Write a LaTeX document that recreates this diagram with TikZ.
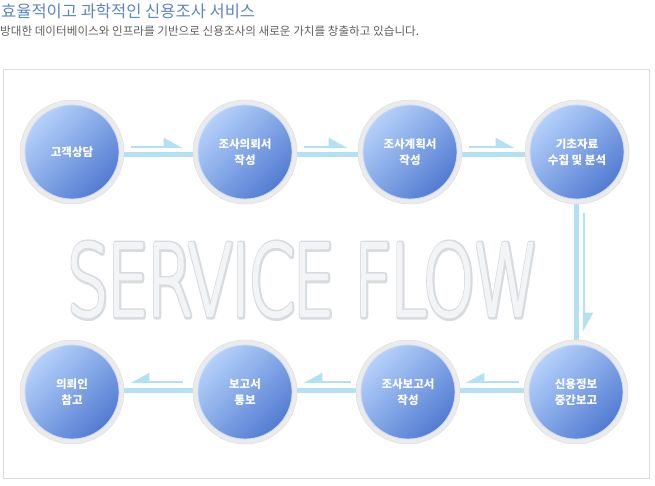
\documentclass[tikz,border=0pt]{standalone}
\usepackage{fontspec}
\usepackage{graphicx}
\setmainfont{Noto Sans CJK KR}
\newfontfamily\flowfont{DejaVu Sans ExtraLight}[LetterSpace=-3]
\usetikzlibrary{positioning,arrows.meta,backgrounds}
\definecolor{titleblue}{HTML}{5A86C8}
\definecolor{subgray}{HTML}{5F5F5F}
\definecolor{framegray}{HTML}{DCDCDC}
\definecolor{ringgray}{HTML}{EBEBEB}
\definecolor{ringline}{HTML}{E0E0E0}
\definecolor{discrim}{HTML}{C9DBF7}
\definecolor{disctop}{HTML}{B4D0FA}
\definecolor{discbottom}{HTML}{527CD2}
\definecolor{bandblue}{HTML}{B3E0F4}
\definecolor{flowshade}{HTML}{D8DBE0}
\definecolor{flowface}{HTML}{F3F4F6}
% stroked text for the watermark
\newcommand{\flowword}[1]{\special{pdf:literal direct 2 Tr #1 w 1 j}{\flowfont SERVICE FLOW}\special{pdf:literal direct 0 Tr}}
\tikzset{
        % grey rings round the steps
        step_ring/.style={circle, fill=ringgray, draw=ringline, line width=0.6pt, minimum size=104pt, inner sep=0pt},
        % blue discs with the step names
        step_disc/.style={circle, draw=discrim, line width=0.8pt, shading=axis, top color=disctop, bottom color=discbottom, shading angle=45, minimum size=94pt, inner sep=0pt, align=center, text=white, font=\bfseries\fontsize{11.5}{15.5}\selectfont},
        % thick pale bands between the rings
        flow_band/.style={draw=bandblue, line width=5pt},
        % thin half arrows, forward and back
        flow_arrow/.style={draw=bandblue, line width=2.2pt, -{Triangle[harpoon, length=17pt, width=18pt]}},
        flow_back/.style={draw=bandblue, line width=2.2pt, -{Triangle[harpoon, swap, length=17pt, width=18pt]}}
}
\begin{document}
\begin{tikzpicture}[x=1pt, y=1pt]
    \useasboundingbox (0,0) rectangle (655,-486);
    % heading
    \node[anchor=west, inner sep=0pt, text=titleblue, font=\fontsize{16.5}{18}\selectfont] (title) at (1,-11) {효율적이고 과학적인 신용조사 서비스};
    \node[anchor=west, inner sep=0pt, text=subgray, font=\fontsize{11.6}{13}\selectfont] (subtitle) at (0,-31) {방대한 데이터베이스와 인프라를 기반으로 신용조사의 새로운 가치를 창출하고 있습니다.};
    % watermark
    \node[inner sep=0pt, text=flowshade] (flowshadow) at (303.2,-280.2) {\resizebox{472pt}{73pt}{\flowword{0.75}}};
    \node[inner sep=0pt, text=flowface] (flowtext) at (302.5,-279.5) {\resizebox{472pt}{73pt}{\flowword{0.3}}};
    % top row
    \node[step_ring] (r1) at (72,-152) {};
    \node[step_ring] (r2) at (245,-152) {};
    \node[step_ring] (r3) at (410,-152) {};
    \node[step_ring] (r4) at (577,-152) {};
    % bottom row
    \node[step_ring] (r5) at (576,-392) {};
    \node[step_ring] (r6) at (408,-392) {};
    \node[step_ring] (r7) at (245,-392) {};
    \node[step_ring] (r8) at (72,-392) {};
    \node[step_disc] (d1) at (r1) {고객상담};
    \node[step_disc] (d2) at (r2) {조사의뢰서\\작성};
    \node[step_disc] (d3) at (r3) {조사계획서\\작성};
    \node[step_disc] (d4) at (r4) {기초자료\\수집 및 분석};
    \node[step_disc] (d5) at (r5) {신용정보\\중간보고};
    \node[step_disc] (d6) at (r6) {조사보고서\\작성};
    \node[step_disc] (d7) at (r7) {보고서\\통보};
    \node[step_disc] (d8) at (r8) {의뢰인\\참고};
    \begin{pgfonlayer}{background}
        \draw[framegray] (3,-69) rectangle (649,-478);
        \draw[flow_band] ([yshift=-3pt]r1.center) -- ([yshift=-3pt]r2.center);
        \draw[flow_band] ([yshift=-3pt]r2.center) -- ([yshift=-3pt]r3.center);
        \draw[flow_band] ([yshift=-3pt]r3.center) -- ([yshift=-3pt]r4.center);
        \draw[flow_band] ([xshift=-1pt]r4.center) -- ([xshift=-1pt]r4.center |- r5.center);
        \draw[flow_band] ([yshift=1.5pt]r5.center) -- ([yshift=1.5pt]r6.center);
        \draw[flow_band] ([yshift=1.5pt]r6.center) -- ([yshift=1.5pt]r7.center);
        \draw[flow_band] ([yshift=1.5pt]r7.center) -- ([yshift=1.5pt]r8.center);
    \end{pgfonlayer}
    % arrows
    \draw[flow_arrow] ([xshift=7pt, yshift=5pt]r1.east) -- ([xshift=-10pt, yshift=5pt]r2.west);
    \draw[flow_arrow] ([xshift=7pt, yshift=5pt]r2.east) -- ([xshift=-10pt, yshift=5pt]r3.west);
    \draw[flow_arrow] ([xshift=7pt, yshift=5pt]r3.east) -- ([xshift=-10pt, yshift=5pt]r4.west);
    \draw[flow_arrow] ([xshift=7pt, yshift=-9pt]r4.south) -- ([xshift=7pt, yshift=8pt]r4.south |- r5.north);
    \draw[flow_back] ([xshift=-5pt, yshift=10pt]r5.west) -- ([xshift=5pt, yshift=10pt]r6.east);
    \draw[flow_back] ([xshift=-5pt, yshift=10pt]r6.west) -- ([xshift=6pt, yshift=10pt]r7.east);
    \draw[flow_back] ([xshift=-10pt, yshift=10pt]r7.west) -- ([xshift=6pt, yshift=10pt]r8.east);
\end{tikzpicture}
\end{document}
